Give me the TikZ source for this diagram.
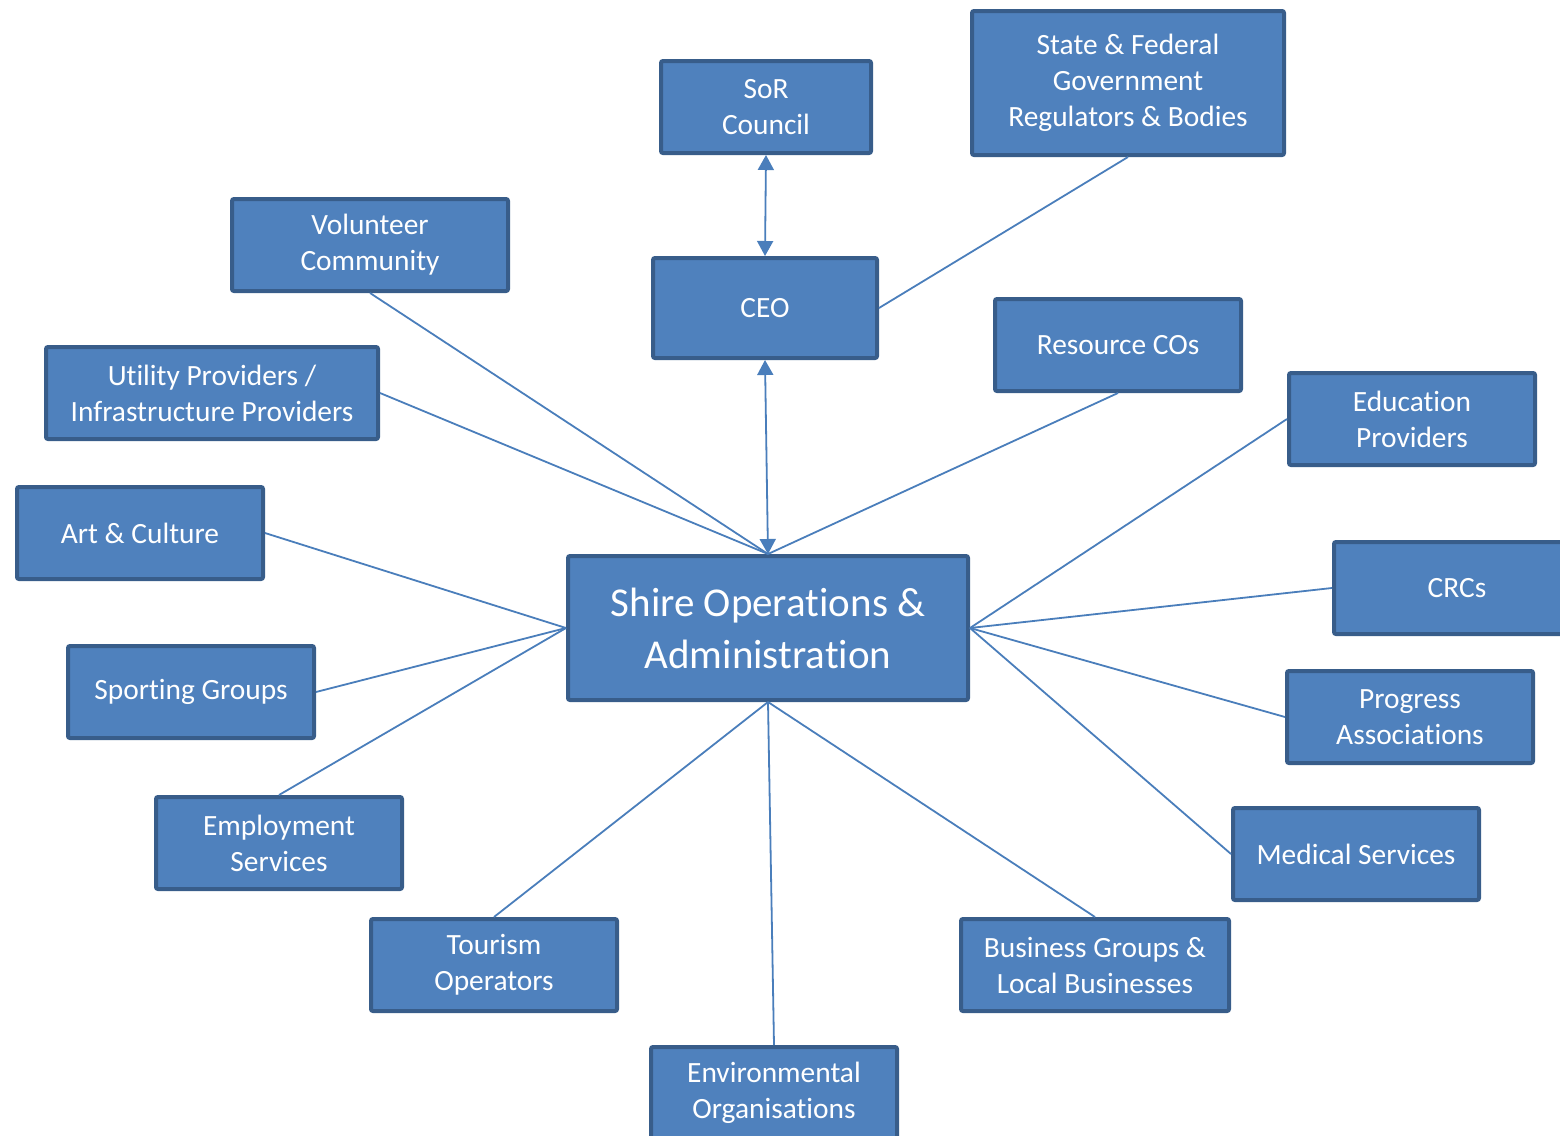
\documentclass[tikz,border=0pt]{standalone}
\usepackage{fontspec}
\setmainfont{Carlito}[RawFeature={-liga;-clig;-calt}]
\usetikzlibrary{arrows.meta}
\definecolor{boxfill}{HTML}{4F81BD}
\definecolor{boxedge}{HTML}{385D8A}
\definecolor{linkcol}{HTML}{4A7EBB}
\tikzset{
  box/.style={draw=boxedge, fill=boxfill, line width=2pt, rounded corners=1pt,
    text=white, align=center, inner sep=0pt, font=\fontsize{14.7}{18}\selectfont},
  link/.style={draw=linkcol, line width=0.9pt},
  twoway/.style={link, {Triangle[length=7.5pt,width=8pt]}-{Triangle[length=7.5pt,width=8pt]}}
}
\begin{document}
\begin{tikzpicture}[x=0.5pt, y=-0.5pt]
		%%%%% START %%%%%
		\useasboundingbox (0,0) rectangle (1560,1136);
		\clip (0,0) rectangle (1560,1136);
		
		% top of the chart
		\node[box, minimum width=105pt, minimum height=46pt] (sor) at (766,107) {SoR\\Council};
		\node[box, minimum width=156pt, minimum height=72pt] (state) at (1128,83) {State \& Federal\\Government\\Regulators \& Bodies};
		\node[box, minimum width=112pt, minimum height=50pt] (ceo) at (765,308) {CEO};
		\node[box, font=\fontsize{20.5}{26}\selectfont, minimum width=200pt, minimum height=72pt] (shire) at (768,628) {Shire Operations \&\\Administration};
		
		% left side
		\node[box, minimum width=138pt, minimum height=46pt] (volunteer) at (370,245) {Volunteer\\Community};
		\node[box, minimum width=166pt, minimum height=46pt] (utility) at (212,393) {Utility Providers /\\Infrastructure Providers};
		\node[box, minimum width=123pt, minimum height=46pt] (art) at (140,533) {Art \& Culture};
		\node[box, minimum width=123pt, minimum height=46pt] (sporting) at (191,692) {Sporting Groups};
		\node[box, minimum width=123pt, minimum height=46pt] (employment) at (279,843) {Employment\\Services};
		\node[box, minimum width=123pt, minimum height=46pt] (tourism) at (494,965) {Tourism\\Operators};
		\node[box, minimum width=123pt, minimum height=46pt] (environ) at (774,1093) {Environmental\\Organisations};
		
		% right side
		\node[box, minimum width=123pt, minimum height=46pt] (resource) at (1118,345) {Resource COs};
		\node[box, minimum width=123pt, minimum height=46pt] (education) at (1412,419) {Education\\Providers};
		\node[box, minimum width=123pt, minimum height=46pt] (crcs) at (1457,588) {CRCs};
		\node[box, minimum width=123pt, minimum height=46pt] (progress) at (1410,717) {Progress\\Associations};
		\node[box, minimum width=123pt, minimum height=46pt] (medical) at (1356,854) {Medical Services};
		\node[box, minimum width=134pt, minimum height=46pt] (business) at (1095,965) {Business Groups \&\\Local Businesses};
		
		% links
		\draw[twoway] (sor.south) -- (ceo.north);
		\draw[twoway] (ceo.south) -- (shire.north);
		\draw[link] (state.south) -- (ceo.east);
		\draw[link] (volunteer.south) -- (shire.north);
		\draw[link] (utility.east) -- (shire.north);
		\draw[link] (resource.south) -- (shire.north);
		\draw[link] (art.east) -- (shire.west);
		\draw[link] (sporting.east) -- (shire.west);
		\draw[link] (employment.north) -- (shire.west);
		\draw[link] (education.west) -- (shire.east);
		\draw[link] (crcs.west) -- (shire.east);
		\draw[link] (progress.west) -- (shire.east);
		\draw[link] (medical.west) -- (shire.east);
		\draw[link] (tourism.north) -- (shire.south);
		\draw[link] (environ.north) -- (shire.south);
		\draw[link] (business.north) -- (shire.south);
		%%%%% END %%%%%
	\end{tikzpicture}
\end{document}
